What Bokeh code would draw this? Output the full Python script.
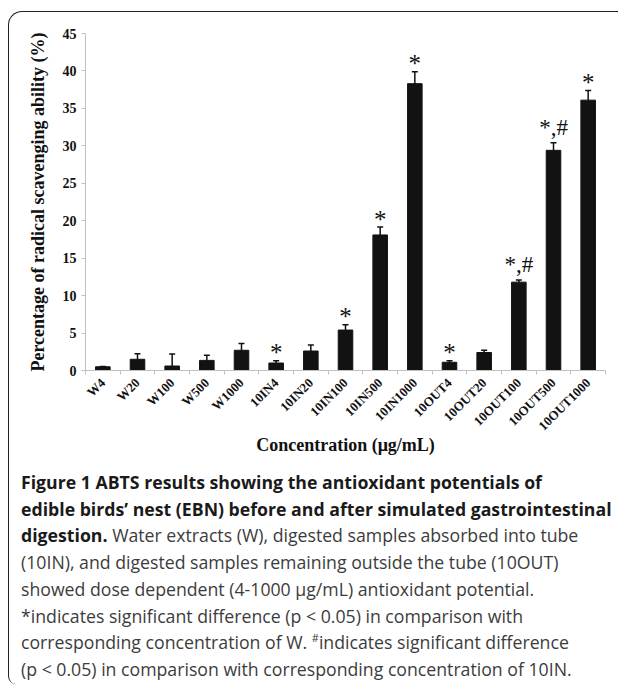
import math
from bokeh.plotting import figure
from bokeh.models import (ColumnDataSource, Range1d, FixedTicker,
                          Whisker, TeeHead, Div)
from bokeh.layouts import column
from bokeh.embed import file_html
from bokeh.resources import INLINE
from bokeh.core.properties import value

# ---------------- data ----------------
categories = ["W4", "W20", "W100", "W500", "W1000",
              "10IN4", "10IN20", "10IN100", "10IN500", "10IN1000",
              "10OUT4", "10OUT20", "10OUT100", "10OUT500", "10OUT1000"]
scavenging = [0.5, 1.5, 0.6, 1.35, 2.7,
              1.0, 2.6, 5.4, 18.1, 38.3,
              1.1, 2.4, 11.8, 29.4, 36.1]
errors = [0.05, 0.75, 1.6, 0.7, 0.9,
          0.3, 0.8, 0.7, 1.05, 1.6,
          0.2, 0.3, 0.3, 1.0, 1.3]
significance = ["", "", "", "", "",
                "*", "", "*", "*", "*",
                "*", "", "*,#", "*,#", "*"]
y_ticks = [0, 5, 10, 15, 20, 25, 30, 35, 40, 45]

SERIF = "Liberation Serif"

idx = list(range(len(categories)))
upper = [v + e for v, e in zip(scavenging, errors)]
lower = [v - e for v, e in zip(scavenging, errors)]
src = ColumnDataSource(dict(x=idx, top=scavenging, upper=upper, lower=lower))

p = figure(frame_width=520, frame_height=337,
           x_range=Range1d(-0.5, len(categories) - 0.5),
           y_range=Range1d(y_ticks[0], y_ticks[-1]),
           output_backend="svg", toolbar_location=None,
           min_border_left=76, min_border_right=13,
           min_border_top=21, min_border_bottom=10)
p.outline_line_color = None
p.xgrid.visible = False
p.ygrid.visible = False
p.background_fill_color = None
p.border_fill_color = None

# y axis
ya = p.yaxis[0]
ya.ticker = FixedTicker(ticks=y_ticks)
ya.axis_line_color = "#c0c0c0"
ya.major_tick_line_color = "#c0c0c0"
ya.major_tick_out = 4
ya.major_tick_in = 0
ya.minor_tick_line_color = None
ya.major_label_text_font = SERIF
ya.major_label_text_font_style = "bold"
ya.major_label_text_font_size = "14px"
ya.major_label_text_color = "#111111"
ya.major_label_standoff = 5
ya.axis_label = "Percentage of radical scavenging ability (%)"
ya.axis_label_text_font = SERIF
ya.axis_label_text_font_style = "bold"
ya.axis_label_text_font_size = "18px"
ya.axis_label_text_color = "#111111"
ya.axis_label_standoff = 12

# x axis: labels at category centres, tick marks at category boundaries
boundaries = [i - 0.5 for i in range(len(categories) + 1)]
xa = p.xaxis[0]
xa.ticker = FixedTicker(ticks=idx, minor_ticks=boundaries)
xa.major_label_overrides = {i: c for i, c in zip(idx, categories)}
xa.axis_line_color = "#c0c0c0"
xa.major_tick_line_color = None
xa.major_tick_out = 4
xa.major_tick_in = 0
xa.minor_tick_line_color = "#c0c0c0"
xa.minor_tick_out = 4
xa.minor_tick_in = 0
xa.major_label_orientation = math.pi / 4
xa.major_label_text_font = SERIF
xa.major_label_text_font_style = "bold"
xa.major_label_text_font_size = "13px"
xa.major_label_text_color = "#111111"
xa.major_label_standoff = 6
xa.axis_label = "Concentration (\u03bcg/mL)"
xa.axis_label_text_font = SERIF
xa.axis_label_text_font_style = "bold"
xa.axis_label_text_font_size = "18px"
xa.axis_label_text_color = "#111111"
xa.axis_label_standoff = -7

# bars
p.vbar(x="x", top="top", width=0.42, source=src,
       fill_color="#121212", line_color="#121212")

# error bars
p.add_layout(Whisker(source=src, base="x", upper="upper", lower="lower",
                     line_color="#111111", line_width=1.5,
                     upper_head=TeeHead(size=6, line_color="#111111", line_width=1.5),
                     lower_head=TeeHead(size=6, line_color="#111111", line_width=1.5)))

# significance marks
star_x = [i for i, s in enumerate(significance) if s == "*"]
star_y = [upper[i] for i in star_x]
both_x = [i for i, s in enumerate(significance) if "#" in s]
both_y = [upper[i] for i in both_x]
p.text(x=star_x, y=star_y, text=["*"] * len(star_x), y_offset=-8,
       text_align="center", text_baseline="alphabetic",
       text_font=value(SERIF), text_font_size="25px", text_color="#111111")
p.text(x=both_x, y=both_y, text=["*,#"] * len(both_x), y_offset=-15,
       text_align="center", text_baseline="alphabetic",
       text_font=value(SERIF), text_font_size="23px", text_color="#111111")

caption_html = (
    '<div style="font-family:\'Open Sans\',sans-serif; font-size:17.7px; '
    'line-height:26.7px; color:#3c3c3c; white-space:nowrap;">'
    '<b style="color:#1a1a1a;">Figure 1 ABTS results showing the antioxidant potentials of<br>'
    'edible birds\u2019 nest (EBN) before and after simulated gastrointestinal<br>'
    'digestion.</b> Water extracts (W), digested samples absorbed into tube<br>'
    '(10IN), and digested samples remaining outside the tube (10OUT)<br>'
    'showed dose dependent (4-1000 \u03bcg/mL) antioxidant potential.<br>'
    '*indicates significant difference (p &lt; 0.05) in comparison with<br>'
    'corresponding concentration of W. <sup style="font-size:11px; line-height:0;">#</sup>indicates significant difference<br>'
    '(p &lt; 0.05) in comparison with corresponding concentration of 10IN.'
    '</div>'
)
cap = Div(text=caption_html, width=600, height=215,
          margin=(12, 0, 0, 0),
          styles={"padding-left": "12px"})

layout = column(p, cap, margin=(11, 0, 0, 8), spacing=0,
                styles={"border-top": "1.5px solid #222",
                        "border-left": "1.5px solid #222",
                        "border-top-left-radius": "14px",
                        "border-bottom-left-radius": "8px"})

open("out.html", "w").write(file_html(layout, INLINE))
